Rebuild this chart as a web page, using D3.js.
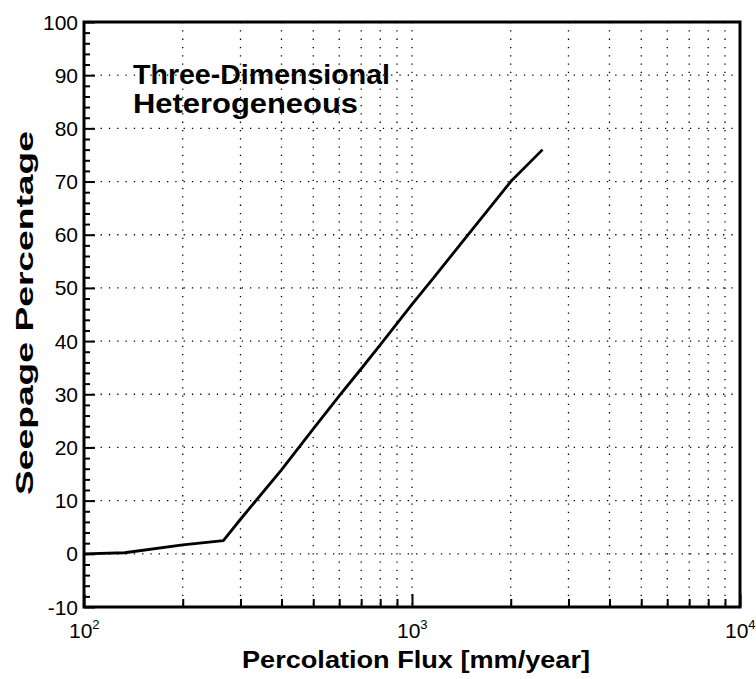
<!DOCTYPE html>
<html>
<head>
<meta charset="utf-8">
<script src="https://cdn.jsdelivr.net/npm/d3@7"></script>
<style>
  body { margin: 0; background: #fff; }
  text { font-family: "Liberation Sans", Arial, Helvetica, sans-serif; fill: #000; }
</style>
</head>
<body>
<div id="chart"></div>
<script>
// seepage curve
const flux = [100, 133, 200, 266, 300, 400, 500, 600, 700, 800, 1000, 1160, 1430, 2000, 2500];
const seepage = [0, 0.2, 1.7, 2.5, 6.5, 15.8, 23.5, 29.7, 34.8, 39.3, 46.9, 51.8, 58.8, 70, 76];

const yMajor = [-10, 0, 10, 20, 30, 40, 50, 60, 70, 80, 90, 100];
const xMajor = [100, 1000, 10000];
const xExp = ["2", "3", "4"];
const gridY = [0, 10, 20, 30, 40, 50, 60, 70, 80, 90];
const gridX = [200, 300, 400, 500, 600, 700, 800, 900, 1000, 2000, 3000, 4000, 5000, 6000, 7000, 8000, 9000];

const W = 756, H = 679;
const plot = {left: 84, right: 740, top: 22, bottom: 607};

const svg = d3.select("#chart")
  .append("svg")
  .attr("width", W)
  .attr("height", H);

const x = d3.scaleLog()
  .domain([100, 10000])
  .range([plot.left, plot.right]);

const y = d3.scaleLinear()
  .domain([-10, 100])
  .range([plot.bottom, plot.top]);

// dotted grid
svg.append("g")
  .selectAll("line")
  .data(gridY)
  .enter()
  .append("line")
  .attr("x1", plot.left).attr("x2", plot.right)
  .attr("y1", d => y(d)).attr("y2", d => y(d))
  .attr("stroke", "#000")
  .attr("stroke-width", 1.3)
  .attr("stroke-dasharray", "1.3,7");

svg.append("g")
  .selectAll("line")
  .data(gridX)
  .enter()
  .append("line")
  .attr("x1", d => x(d)).attr("x2", d => x(d))
  .attr("y1", plot.top).attr("y2", plot.bottom)
  .attr("stroke", "#000")
  .attr("stroke-width", 1.3)
  .attr("stroke-dasharray", "1.3,7");

// x axis, ticks pointing inward
const xTicks = x.ticks();
const xAxis = svg.append("g")
  .attr("transform", "translate(0," + plot.bottom + ")")
  .call(d3.axisBottom(x).tickValues(xTicks).tickSize(-8).tickFormat(""));
xAxis.selectAll(".tick line")
  .attr("stroke-width", 2)
  .attr("y2", d => xMajor.includes(d) ? -13 : -8);
xAxis.select(".domain").remove();

const xLab = svg.append("g")
  .selectAll("text")
  .data(xMajor)
  .enter()
  .append("text")
  .attr("x", d => x(d) - 15)
  .attr("y", 638)
  .attr("font-size", 21);
xLab.append("tspan").text("10");
xLab.append("tspan")
  .attr("dy", -9)
  .attr("font-size", 13)
  .text((d, i) => xExp[i]);

// y axis
const yAxis = svg.append("g")
  .attr("transform", "translate(" + plot.left + ",0)")
  .call(d3.axisLeft(y).tickValues(d3.range(-10, 101, 2)).tickSize(-6).tickFormat(""));
yAxis.selectAll(".tick line")
  .attr("stroke-width", 2)
  .attr("x2", d => d % 10 === 0 ? 11 : 6);
yAxis.select(".domain").remove();

svg.append("g")
  .selectAll("text")
  .data(yMajor)
  .enter()
  .append("text")
  .attr("x", 78)
  .attr("y", d => y(d) + 7.5)
  .attr("text-anchor", "end")
  .attr("font-size", 21)
  .text(d => d);

// frame
svg.append("rect")
  .attr("x", plot.left).attr("y", plot.top)
  .attr("width", plot.right - plot.left).attr("height", plot.bottom - plot.top)
  .attr("fill", "none")
  .attr("stroke", "#000")
  .attr("stroke-width", 3);

// curve
const line = d3.line()
  .x((d, i) => x(flux[i]))
  .y(d => y(d));

svg.append("path")
  .datum(seepage)
  .attr("fill", "none")
  .attr("stroke", "#000")
  .attr("stroke-width", 2.8)
  .attr("stroke-linejoin", "round")
  .attr("d", line);

// labels
svg.append("text")
  .attr("x", 133).attr("y", 84)
  .attr("font-size", 28).attr("font-weight", "bold")
  .attr("textLength", 257).attr("lengthAdjust", "spacingAndGlyphs")
  .text("Three-Dimensional");
svg.append("text")
  .attr("x", 133).attr("y", 113)
  .attr("font-size", 28).attr("font-weight", "bold")
  .attr("textLength", 225).attr("lengthAdjust", "spacingAndGlyphs")
  .text("Heterogeneous");

svg.append("text")
  .attr("x", 416).attr("y", 668)
  .attr("text-anchor", "middle")
  .attr("font-size", 23).attr("font-weight", "bold")
  .attr("textLength", 348).attr("lengthAdjust", "spacingAndGlyphs")
  .text("Percolation Flux [mm/year]");

svg.append("text")
  .attr("transform", "translate(33,313) rotate(-90)")
  .attr("text-anchor", "middle")
  .attr("font-size", 23).attr("font-weight", "bold")
  .attr("textLength", 364).attr("lengthAdjust", "spacingAndGlyphs")
  .text("Seepage Percentage");
</script>
</body>
</html>
